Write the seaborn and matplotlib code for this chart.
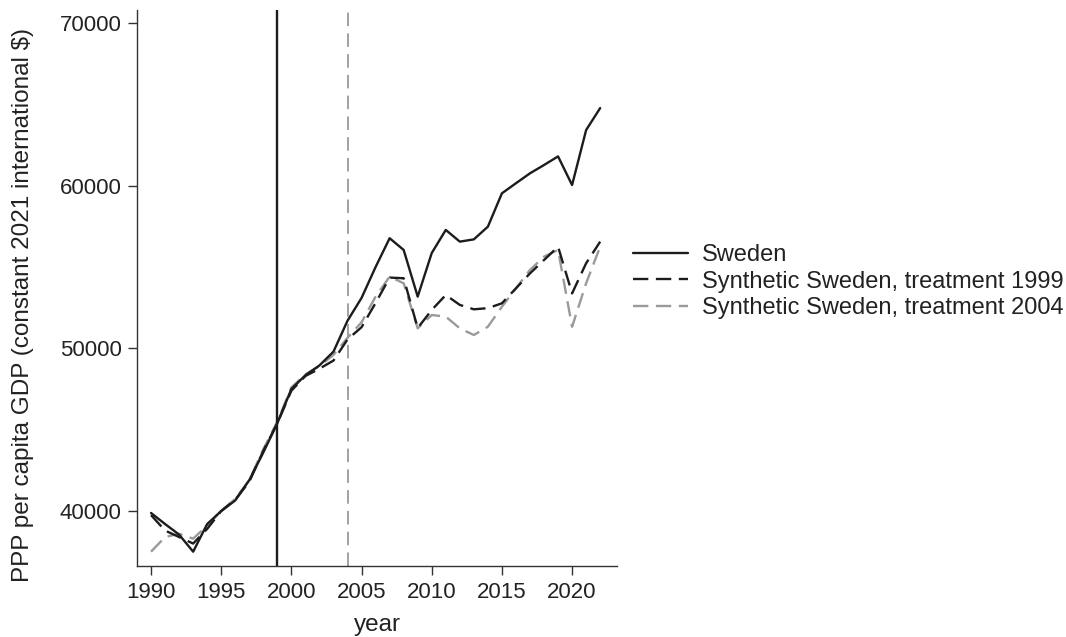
import matplotlib
matplotlib.use("Agg")
import matplotlib.pyplot as plt
import seaborn as sns
import pandas as pd

years = list(range(1990, 2023))
sweden = [39880, 39200, 38550, 37500, 39200, 40000, 40650, 41900, 43600, 45400,
          47500, 48350, 48950, 49800, 51700, 53100, 55000, 56770, 56050, 53180,
          55860, 57280, 56560, 56700, 57480, 59530, 60150, 60760, 61270, 61800,
          60040, 63420, 64770]
synth_1999 = [39750, 38800, 38400, 38000, 38900, 40000, 40700, 41800, 43700, 45400,
              47400, 48300, 48750, 49250, 50550, 51300, 52790, 54350, 54310, 51250,
              52360, 53280, 52670, 52400, 52470, 52770, 53690, 54610, 55430, 56250,
              53380, 55230, 56560]
synth_2004 = [37500, 38400, 38600, 38300, 39100, 40000, 40750, 41900, 43800, 45500,
              47600, 48400, 48900, 49600, 50650, 51600, 53180, 54410, 54000, 51230,
              52050, 51950, 51230, 50820, 51330, 52560, 53690, 54820, 55640, 56050,
              51330, 54000, 56250]
labels = ["Sweden", "Synthetic Sweden, treatment 1999", "Synthetic Sweden, treatment 2004"]
treat_years = [1999, 2004]
yticks = [40000, 50000, 60000, 70000]
xticks = [1990, 1995, 2000, 2005, 2010, 2015, 2020]

sns.set_theme(style="white")
plt.rcParams['font.family'] = ['Liberation Sans', 'DejaVu Sans']

W, H = 1066, 637
fig = plt.figure(figsize=(W / 100, H / 100), dpi=100)
ax = fig.add_axes([137 / W, 1 - 566 / H, (617 - 137) / W, (566 - 10) / H])

df = pd.DataFrame({"year": years, "Sweden": sweden, "s1999": synth_1999, "s2004": synth_2004})

dark = "#1c1c1c"
gray = "#9a9a9a"
lw = 1.7
dash = (0, (6.5, 3.2))

sns.lineplot(data=df, x="year", y="s2004", ax=ax, color=gray, lw=lw,
             label=labels[2], linestyle=dash)
sns.lineplot(data=df, x="year", y="s1999", ax=ax, color=dark, lw=lw,
             label=labels[1], linestyle=dash)
sns.lineplot(data=df, x="year", y="Sweden", ax=ax, color=dark, lw=lw,
             label=labels[0])

ax.axvline(treat_years[0], color=dark, lw=1.7)
ax.axvline(treat_years[1], color=gray, lw=1.3, linestyle=(0, (7.5, 4)))

ax.set_xlim(1989.0, 2023.2)
ax.set_ylim(36620, 70800)
ax.set_xticks(xticks)
ax.set_yticks(yticks)
ax.tick_params(axis="both", which="both", direction="out", length=6.5, width=1,
               color="#333333", labelsize=16, labelcolor="#222222", bottom=True, left=True)
ax.tick_params(axis="x", pad=5)
ax.tick_params(axis="y", pad=4.5)
for s in ["top", "right"]:
    ax.spines[s].set_visible(False)
for s in ["left", "bottom"]:
    ax.spines[s].set_color("#333333")
    ax.spines[s].set_linewidth(1.0)

ax.set_xlabel("year", fontsize=17.5, color="#222222", labelpad=8)
ax.set_ylabel(r"PPP per capita GDP (constant 2021 international \$)", fontsize=17.5,
              color="#222222")
ax.yaxis.set_label_coords(-(137 - 34) / (617 - 137), (566 - 305) / (566 - 10))

handles, lbls = ax.get_legend_handles_labels()
order = [lbls.index(l) for l in labels]
fig.legend([handles[i] for i in order], [lbls[i] for i in order],
           loc="center left", bbox_to_anchor=(633 / W, 1 - 281.7 / H),
           bbox_transform=fig.transFigure, frameon=False,
           fontsize=17, handlelength=2.33, handletextpad=0.58, labelspacing=0.2,
           borderpad=0, borderaxespad=0, labelcolor="#222222")
ax.get_legend().remove()

fig.savefig("out.png", dpi=100)
